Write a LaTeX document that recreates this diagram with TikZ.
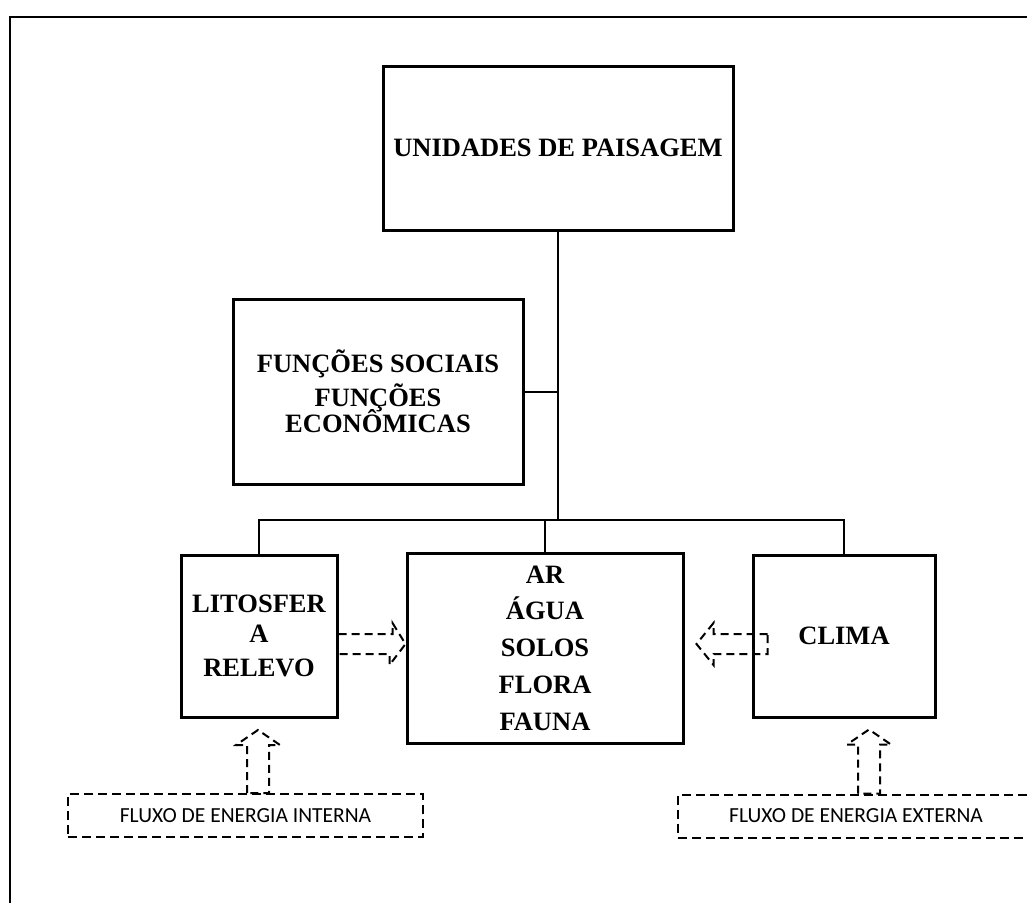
\documentclass[tikz,border=0pt]{standalone}
\usepackage{fontspec}
\setmainfont{Liberation Serif}
\newfontfamily\calibri{Carlito}
\usetikzlibrary{positioning,calc}

\begin{document}
\begin{tikzpicture}[
  x=1pt, y=-1pt,
  caixa/.style={draw, line width=3pt, inner sep=0pt, align=center,
    font=\bfseries\fontsize{26.5}{32}\selectfont},
  linha/.style={line width=2pt},
  bloco/.style={line width=2pt, dash pattern=on 8pt off 5pt},
  fluxo/.style={draw, line width=2pt, dash pattern=on 9pt off 5pt,
    inner sep=0pt, font=\calibri\fontsize{21.5}{26}\selectfont},
  moldura/.style={line width=2pt}
]
\useasboundingbox[fill=white] (0,0) rectangle (1027,902);
\draw[moldura] (1035,17) -- (10,17) -- (10,910);

% caixas
\node[caixa, minimum width=350, minimum height=164] (paisagem) at (558,148) {UNIDADES DE PAISAGEM};
\node[caixa, minimum width=290, minimum height=185] (funcoes) at (378,391.5)
  {FUNÇÕES SOCIAIS\\[2pt]FUNÇÕES\\[-6pt]ECONÔMICAS};
\node[caixa, minimum width=156, minimum height=162] (litosfera) at (259,636) {LITOSFER\\[-2pt]A\\[2pt]RELEVO};
\node[caixa, minimum width=276, minimum height=190] (meio) at (545,648)
  {AR\\[4.75pt]ÁGUA\\[4.75pt]SOLOS\\[4.75pt]FLORA\\[4.75pt]FAUNA};
\node[caixa, minimum width=182, minimum height=162] (clima) at (844,636) {CLIMA};

% fluxos
\node[fluxo, minimum width=355, minimum height=43] (interna) at (245.5,815.5) {FLUXO DE ENERGIA INTERNA};
\node[fluxo, minimum width=356, minimum height=43] (externa) at (856,816) {FLUXO DE ENERGIA EXTERNA};

% ligacoes
\coordinate (barra) at (558,520);
\draw[linha] (paisagem.south) -- (barra);
\draw[linha] (litosfera.north) |- (barra) -| (clima.north);
\draw[linha] (meio.north) -- (meio.north |- barra);
\draw[linha] (funcoes.east) -- (funcoes.east -| barra);

% setas tracejadas
\draw[bloco] (litosfera.east |- 0,634) -- ++(54,0) -- ++(0,-11) -- (meio.west |- 0,644)
  -- ++(-16,21) -- ++(0,-11) -- (litosfera.east |- 0,654);
\draw[bloco] ($(clima.west |- 0,634)+(16,0)$) -- ++(-54,0) -- ++(0,-11) -- ++(-17,21)
  -- ++(17,21) -- ++(0,-11) -- ++(54,0) -- cycle;
\draw[bloco] (interna.north -| 247,0) -- ++(0,-48) -- ++(-11,0) -- ++(22,-15)
  -- ++(22,15) -- ++(-11,0) -- ++(0,48) -- cycle;
\draw[bloco] (externa.north -| 858,0) -- ++(0,-49) -- ++(-11,0) -- ++(22,-15)
  -- ++(22,15) -- ++(-11,0) -- ++(0,49) -- cycle;
\end{tikzpicture}
\end{document}
